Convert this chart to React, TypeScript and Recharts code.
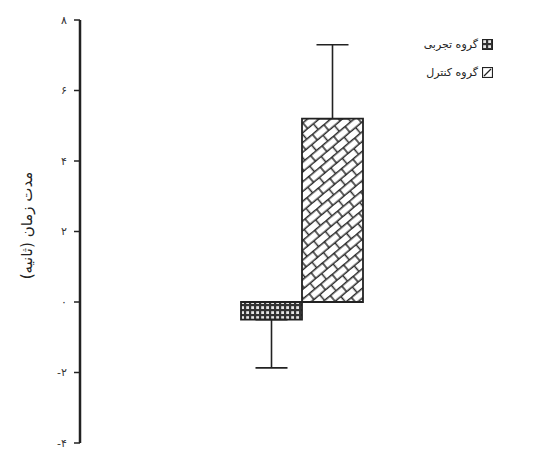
import { BarChart, Bar, XAxis, YAxis, ErrorBar } from 'recharts';

const groups = ['گروه تجربی', 'گروه کنترل'];
const means = [-0.5, 5.2];
const errorEnds = [-1.87, 7.3];
const yTicks = [-4, -2, 0, 2, 4, 6, 8];

const FA_DIGITS = '۰۱۲۳۴۵۶۷۸۹';
const toFa = (v: number) => (v < 0 ? '-' : '') + String(Math.abs(v)).replace(/\d/g, (d) => FA_DIGITS[+d]);

const data = [
  {
    name: 'time',
    exp: means[0],
    ctl: means[1],
    expErr: [Math.max(0, means[0] - errorEnds[0]), Math.max(0, errorEnds[0] - means[0])],
    ctlErr: [Math.max(0, means[1] - errorEnds[1]), Math.max(0, errorEnds[1] - means[1])],
  },
];

const FONT = '"DejaVu Sans", sans-serif';
const INK = '#222';

function LegendBox() {
  return (
    <div style={{ position: 'absolute', top: 30, right: 53, fontFamily: FONT, fontSize: 11, color: INK }}>
      {groups.map((g, i) => (
        <div key={g} style={{ display: 'flex', alignItems: 'center', justifyContent: 'flex-end', height: 28 }}>
          <span dir="rtl">{g}</span>
          <svg width={11} height={11} style={{ marginLeft: 4 }}>
            {i === 0 ? (
              <rect x={0.5} y={0.5} width={10} height={10} fill="url(#checker)" stroke={INK} />
            ) : (
              <g>
                <rect x={0.5} y={0.5} width={10} height={10} fill="#fff" stroke={INK} strokeWidth={1.2} />
                <path d="M2 9 L9 2" stroke={INK} strokeWidth={1.2} />
              </g>
            )}
          </svg>
        </div>
      ))}
    </div>
  );
}

function YLabel(props: any) {
  const vb = props.viewBox || { x: 0, y: 0, width: 0, height: 0 };
  const x = vb.x + 27;
  const y = vb.y + vb.height / 2 - 6;
  return (
    <text
      x={x}
      y={y}
      transform={`rotate(-90, ${x}, ${y})`}
      textAnchor="middle"
      dominantBaseline="central"
      direction="rtl"
      style={{ fontFamily: FONT, fontSize: 15, fill: INK }}
    >
      مدت زمان (ثانیه)
    </text>
  );
}

export default function App() {
  return (
    <div style={{ position: 'fixed', left: 0, top: 0, width: 546, height: 453, background: '#fff' }}>
      <svg width={0} height={0} style={{ position: 'absolute' }}>
        <defs>
          <pattern id="checker" width={5} height={5} patternUnits="userSpaceOnUse">
            <rect width={5} height={5} fill="#333" />
            <rect x={1.2} y={1.2} width={2.8} height={2.8} fill="#e6e6e6" />
          </pattern>
          <pattern id="brick" width={15} height={15} patternUnits="userSpaceOnUse" patternTransform="rotate(-40)">
            <rect width={15} height={15} fill="#fff" />
            <path
              d="M0 3.75H15M0 11.25H15M3 3.75V11.25M10.5 11.25V15M10.5 0V3.75"
              stroke="#2a2a2a"
              strokeWidth={1.5}
              fill="none"
            />
          </pattern>
        </defs>
      </svg>
      <BarChart
        width={546}
        height={453}
        data={data}
        margin={{ top: 20, right: 22, bottom: 10, left: 0 }}
        barGap={0}
        barSize={61}
      >
        <XAxis dataKey="name" hide />
        <YAxis
          domain={[-4, 8]}
          ticks={yTicks}
          width={80}
          tickFormatter={toFa}
          axisLine={{ stroke: INK, strokeWidth: 2.5 }}
          tickLine={{ stroke: INK, strokeWidth: 1.5 }}
          tickSize={6}
          tickMargin={7}
          tick={{ fill: '#333', fontSize: 11, fontFamily: FONT }}
          label={<YLabel />}
        />
        <Bar dataKey="exp" fill="url(#checker)" stroke={INK} strokeWidth={1.8} isAnimationActive={false}>
          <ErrorBar dataKey="expErr" width={16} stroke={INK} strokeWidth={1.6} direction="y" />
        </Bar>
        <Bar dataKey="ctl" fill="url(#brick)" stroke={INK} strokeWidth={1.8} isAnimationActive={false}>
          <ErrorBar dataKey="ctlErr" width={16} stroke={INK} strokeWidth={1.6} direction="y" />
        </Bar>
      </BarChart>
      <LegendBox />
    </div>
  );
}
